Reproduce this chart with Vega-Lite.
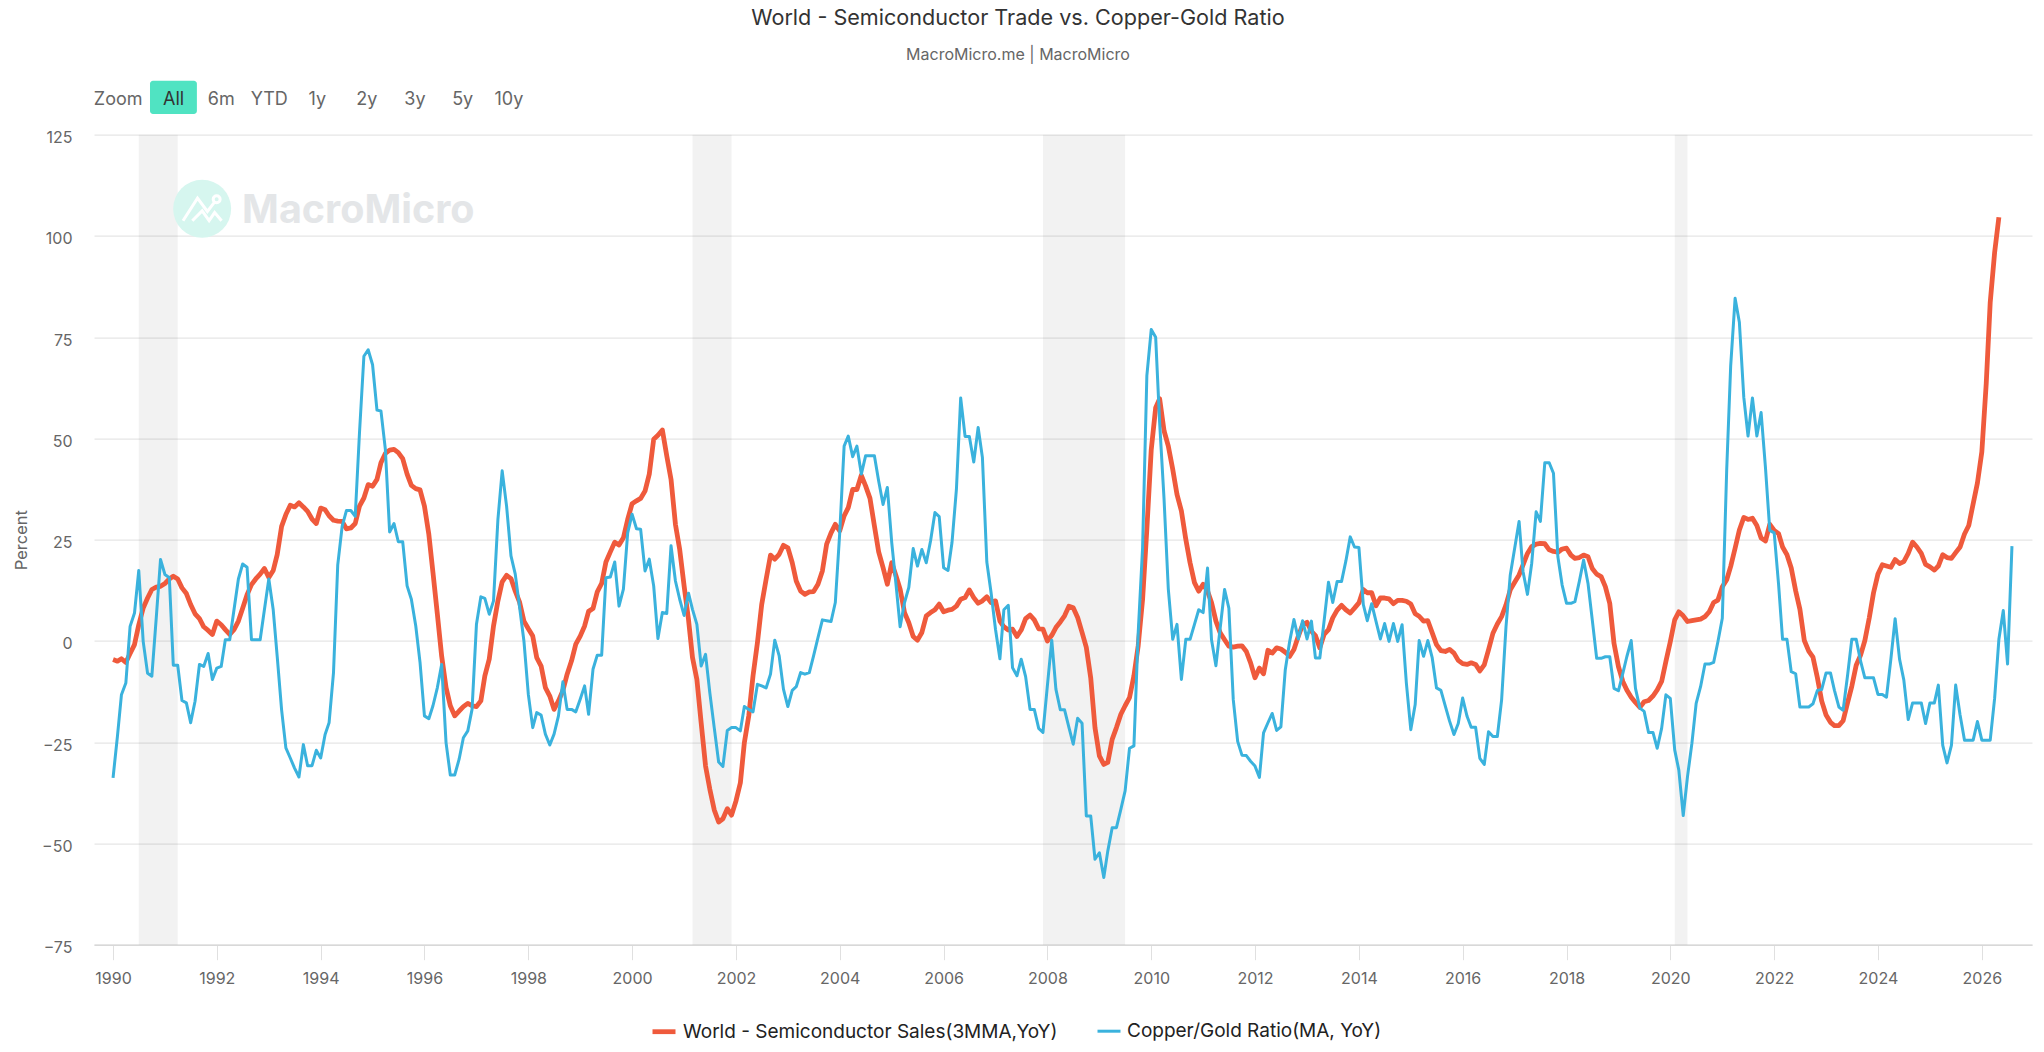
{
"$schema":"https://vega.github.io/schema/vega-lite/v6.json",
"width":1938,"height":810,
"autosize":{"type":"none"},
"padding":{"left":94,"top":134.7,"right":12,"bottom":107.3},
"background":"#ffffff",
"title":{"text":"World - Semiconductor Trade vs. Copper-Gold Ratio","subtitle":"MacroMicro.me | MacroMicro","anchor":"middle","dx":-45,"offset":18,"font":"Inter","fontSize":21.6,"fontWeight":400,"color":"#333333","subtitleFont":"Inter","subtitleFontSize":16,"subtitleColor":"#666666","subtitlePadding":17},
"datasets":{
"recessions":[{"start":"1990-07-01","end":"1991-04-01"},{"start":"2001-03-01","end":"2001-12-01"},{"start":"2007-12-01","end":"2009-07-01"},{"start":"2020-02-01","end":"2020-05-01"}],
"monthly":[
{"date":"1990-01-01","semi":-4.6,"copper_gold":-33.8},{"date":"1990-02-01","semi":-5,"copper_gold":-23.5},{"date":"1990-03-01","semi":-4.4,"copper_gold":-13.3},{"date":"1990-04-01","semi":-5.3,"copper_gold":-10.4},{"date":"1990-05-01","semi":-3.1,"copper_gold":3.6},{"date":"1990-06-01","semi":-0.9,"copper_gold":6.9},{"date":"1990-07-01","semi":4,"copper_gold":17.4},{"date":"1990-08-01","semi":8.1,"copper_gold":-0.1},{"date":"1990-09-01","semi":10.6,"copper_gold":-8},{"date":"1990-10-01","semi":12.7,"copper_gold":-8.7},{"date":"1990-11-01","semi":13.3,"copper_gold":5.7},{"date":"1990-12-01","semi":13.5,"copper_gold":20.1},
{"date":"1991-01-01","semi":14.2,"copper_gold":16.4},{"date":"1991-02-01","semi":15.3,"copper_gold":15.6},{"date":"1991-03-01","semi":16,"copper_gold":-6},{"date":"1991-04-01","semi":15.3,"copper_gold":-6},{"date":"1991-05-01","semi":13.1,"copper_gold":-14.7},{"date":"1991-06-01","semi":11.7,"copper_gold":-15.3},{"date":"1991-07-01","semi":9,"copper_gold":-20.2},{"date":"1991-08-01","semi":6.7,"copper_gold":-14.9},{"date":"1991-09-01","semi":5.5,"copper_gold":-5.8},{"date":"1991-10-01","semi":3.5,"copper_gold":-6.3},{"date":"1991-11-01","semi":2.6,"copper_gold":-3.1},{"date":"1991-12-01","semi":1.6,"copper_gold":-9.5},
{"date":"1992-01-01","semi":4.9,"copper_gold":-6.7},{"date":"1992-02-01","semi":4,"copper_gold":-6.3},{"date":"1992-03-01","semi":2.8,"copper_gold":0.3},{"date":"1992-04-01","semi":1.6,"copper_gold":0.3},{"date":"1992-05-01","semi":2.8,"copper_gold":7.7},{"date":"1992-06-01","semi":4.9,"copper_gold":15.3},{"date":"1992-07-01","semi":8.1,"copper_gold":19},{"date":"1992-08-01","semi":11.4,"copper_gold":18.2},{"date":"1992-09-01","semi":13.9,"copper_gold":0.3},{"date":"1992-10-01","semi":15.3,"copper_gold":0.3},{"date":"1992-11-01","semi":16.5,"copper_gold":0.3},{"date":"1992-12-01","semi":17.9,"copper_gold":7.7},
{"date":"1993-01-01","semi":15.7,"copper_gold":15.3},{"date":"1993-02-01","semi":17.4,"copper_gold":7.7},{"date":"1993-03-01","semi":21.3,"copper_gold":-3.8},{"date":"1993-04-01","semi":28.3,"copper_gold":-17},{"date":"1993-05-01","semi":31.2,"copper_gold":-26.4},{"date":"1993-06-01","semi":33.5,"copper_gold":-28.9},{"date":"1993-07-01","semi":33.1,"copper_gold":-31.4},{"date":"1993-08-01","semi":34.1,"copper_gold":-33.6},{"date":"1993-09-01","semi":33.1,"copper_gold":-25.6},{"date":"1993-10-01","semi":32,"copper_gold":-30.8},{"date":"1993-11-01","semi":30.1,"copper_gold":-30.8},{"date":"1993-12-01","semi":29,"copper_gold":-27},
{"date":"1994-01-01","semi":32.8,"copper_gold":-28.9},{"date":"1994-02-01","semi":32.4,"copper_gold":-23.1},{"date":"1994-03-01","semi":30.9,"copper_gold":-20.2},{"date":"1994-04-01","semi":29.8,"copper_gold":-7.9},{"date":"1994-05-01","semi":29.6,"copper_gold":18.8},{"date":"1994-06-01","semi":29.5,"copper_gold":28.3},{"date":"1994-07-01","semi":27.7,"copper_gold":32.2},{"date":"1994-08-01","semi":27.9,"copper_gold":32.2},{"date":"1994-09-01","semi":29,"copper_gold":30.8},{"date":"1994-10-01","semi":33.3,"copper_gold":51.4},{"date":"1994-11-01","semi":35.3,"copper_gold":70.3},{"date":"1994-12-01","semi":38.6,"copper_gold":71.9},
{"date":"1995-01-01","semi":38.2,"copper_gold":68.2},{"date":"1995-02-01","semi":39.9,"copper_gold":57},{"date":"1995-03-01","semi":44,"copper_gold":56.8},{"date":"1995-04-01","semi":46.3,"copper_gold":47.3},{"date":"1995-05-01","semi":47.1,"copper_gold":26.9},{"date":"1995-06-01","semi":47.3,"copper_gold":29},{"date":"1995-07-01","semi":46.5,"copper_gold":24.5},{"date":"1995-08-01","semi":45,"copper_gold":24.5},{"date":"1995-09-01","semi":41.2,"copper_gold":13.6},{"date":"1995-10-01","semi":38.4,"copper_gold":10.3},{"date":"1995-11-01","semi":37.6,"copper_gold":3.7},{"date":"1995-12-01","semi":37.3,"copper_gold":-5.3},
{"date":"1996-01-01","semi":33.3,"copper_gold":-18.5},{"date":"1996-02-01","semi":26.3,"copper_gold":-19.2},{"date":"1996-03-01","semi":16.9,"copper_gold":-16},{"date":"1996-04-01","semi":6.6,"copper_gold":-11.5},{"date":"1996-05-01","semi":-3.7,"copper_gold":-5.8},{"date":"1996-06-01","semi":-11.5,"copper_gold":-25.1},{"date":"1996-07-01","semi":-16,"copper_gold":-33.1},{"date":"1996-08-01","semi":-18.5,"copper_gold":-33.1},{"date":"1996-09-01","semi":-17.3,"copper_gold":-29.2},{"date":"1996-10-01","semi":-16.2,"copper_gold":-23.9},{"date":"1996-11-01","semi":-15.4,"copper_gold":-22.2},{"date":"1996-12-01","semi":-16,"copper_gold":-16.9},
{"date":"1997-01-01","semi":-16.2,"copper_gold":4.1},{"date":"1997-02-01","semi":-14.8,"copper_gold":10.9},{"date":"1997-03-01","semi":-8.6,"copper_gold":10.5},{"date":"1997-04-01","semi":-4.5,"copper_gold":6.6},{"date":"1997-05-01","semi":3.7,"copper_gold":9.9},{"date":"1997-06-01","semi":9.9,"copper_gold":30},{"date":"1997-07-01","semi":14.6,"copper_gold":42},{"date":"1997-08-01","semi":16.2,"copper_gold":33.3},{"date":"1997-09-01","semi":15.4,"copper_gold":21},{"date":"1997-10-01","semi":12.3,"copper_gold":16.5},{"date":"1997-11-01","semi":9.5,"copper_gold":8.2},{"date":"1997-12-01","semi":4.9,"copper_gold":0},
{"date":"1998-01-01","semi":3,"copper_gold":-13.2},{"date":"1998-02-01","semi":1.2,"copper_gold":-21.4},{"date":"1998-03-01","semi":-4.1,"copper_gold":-17.7},{"date":"1998-04-01","semi":-6.2,"copper_gold":-18.3},{"date":"1998-05-01","semi":-11.5,"copper_gold":-23},{"date":"1998-06-01","semi":-13.6,"copper_gold":-25.7},{"date":"1998-07-01","semi":-16.9,"copper_gold":-23},{"date":"1998-08-01","semi":-14.8,"copper_gold":-18.5},{"date":"1998-09-01","semi":-12.3,"copper_gold":-10.1},{"date":"1998-10-01","semi":-8.2,"copper_gold":-16.9},{"date":"1998-11-01","semi":-4.9,"copper_gold":-16.9},{"date":"1998-12-01","semi":-0.8,"copper_gold":-17.5},
{"date":"1999-01-01","semi":1.2,"copper_gold":-14.4},{"date":"1999-02-01","semi":3.7,"copper_gold":-11.1},{"date":"1999-03-01","semi":7.3,"copper_gold":-18.1},{"date":"1999-04-01","semi":8,"copper_gold":-7},{"date":"1999-05-01","semi":12.1,"copper_gold":-3.5},{"date":"1999-06-01","semi":14.2,"copper_gold":-3.5},{"date":"1999-07-01","semi":19.5,"copper_gold":15.6},{"date":"1999-08-01","semi":22,"copper_gold":15.8},{"date":"1999-09-01","semi":24.4,"copper_gold":19.5},{"date":"1999-10-01","semi":23.7,"copper_gold":8.6},{"date":"1999-11-01","semi":25.5,"copper_gold":12.8},{"date":"1999-12-01","semi":30,"copper_gold":26.7},
{"date":"2000-01-01","semi":33.9,"copper_gold":31.3},{"date":"2000-02-01","semi":34.6,"copper_gold":27.7},{"date":"2000-03-01","semi":35.2,"copper_gold":27.6},{"date":"2000-04-01","semi":37,"copper_gold":17.3},{"date":"2000-05-01","semi":41.2,"copper_gold":20.2},{"date":"2000-06-01","semi":49.8,"copper_gold":13.6},{"date":"2000-07-01","semi":50.8,"copper_gold":0.6},{"date":"2000-08-01","semi":52.1,"copper_gold":7},{"date":"2000-09-01","semi":45.7,"copper_gold":6.8},{"date":"2000-10-01","semi":39.9,"copper_gold":23.5},{"date":"2000-11-01","semi":28.8,"copper_gold":14.8},{"date":"2000-12-01","semi":22.6,"copper_gold":10.3},
{"date":"2001-01-01","semi":13.6,"copper_gold":6.3},{"date":"2001-02-01","semi":5.3,"copper_gold":11.8},{"date":"2001-03-01","semi":-4.1,"copper_gold":7.8},{"date":"2001-04-01","semi":-9.5,"copper_gold":4.1},{"date":"2001-05-01","semi":-20.2,"copper_gold":-6.2},{"date":"2001-06-01","semi":-30.9,"copper_gold":-3.3},{"date":"2001-07-01","semi":-36.6,"copper_gold":-12.8},{"date":"2001-08-01","semi":-41.7,"copper_gold":-21.4},{"date":"2001-09-01","semi":-44.7,"copper_gold":-29.9},{"date":"2001-10-01","semi":-43.9,"copper_gold":-31},{"date":"2001-11-01","semi":-41.4,"copper_gold":-22.1},{"date":"2001-12-01","semi":-43,"copper_gold":-21.4},
{"date":"2002-01-01","semi":-39.5,"copper_gold":-21.4},{"date":"2002-02-01","semi":-35,"copper_gold":-22.2},{"date":"2002-03-01","semi":-25.1,"copper_gold":-16.2},{"date":"2002-04-01","semi":-18.5,"copper_gold":-16.9},{"date":"2002-05-01","semi":-8.6,"copper_gold":-17.5},{"date":"2002-06-01","semi":-0.4,"copper_gold":-10.7},{"date":"2002-07-01","semi":9,"copper_gold":-11.1},{"date":"2002-08-01","semi":15.2,"copper_gold":-11.6},{"date":"2002-09-01","semi":21.2,"copper_gold":-8.2},{"date":"2002-10-01","semi":20.2,"copper_gold":0.2},{"date":"2002-11-01","semi":21.4,"copper_gold":-3.7},{"date":"2002-12-01","semi":23.6,"copper_gold":-11.9},
{"date":"2003-01-01","semi":23,"copper_gold":-16.2},{"date":"2003-02-01","semi":19.3,"copper_gold":-12.2},{"date":"2003-03-01","semi":14.8,"copper_gold":-11.3},{"date":"2003-04-01","semi":12.3,"copper_gold":-7.8},{"date":"2003-05-01","semi":11.5,"copper_gold":-8.2},{"date":"2003-06-01","semi":12.1,"copper_gold":-7.8},{"date":"2003-07-01","semi":12.2,"copper_gold":-3.7},{"date":"2003-08-01","semi":14,"copper_gold":0.8},{"date":"2003-09-01","semi":17.3,"copper_gold":5.2},{"date":"2003-10-01","semi":23.9,"copper_gold":5},{"date":"2003-11-01","semi":26.7,"copper_gold":4.8},{"date":"2003-12-01","semi":28.8,"copper_gold":9.5},
{"date":"2004-01-01","semi":27.2,"copper_gold":26.7},{"date":"2004-02-01","semi":30.9,"copper_gold":48.1},{"date":"2004-03-01","semi":32.9,"copper_gold":50.6},{"date":"2004-04-01","semi":37.4,"copper_gold":45.5},{"date":"2004-05-01","semi":37.4,"copper_gold":48.1},{"date":"2004-06-01","semi":40.9,"copper_gold":41.2},{"date":"2004-07-01","semi":38.3,"copper_gold":45.7},{"date":"2004-08-01","semi":35.2,"copper_gold":45.7},{"date":"2004-09-01","semi":28.4,"copper_gold":45.7},{"date":"2004-10-01","semi":22,"copper_gold":39.5},{"date":"2004-11-01","semi":18.1,"copper_gold":33.7},{"date":"2004-12-01","semi":14,"copper_gold":37.9},
{"date":"2005-01-01","semi":19.3,"copper_gold":24.3},{"date":"2005-02-01","semi":16,"copper_gold":13.6},{"date":"2005-03-01","semi":12.8,"copper_gold":3.5},{"date":"2005-04-01","semi":7,"copper_gold":9.5},{"date":"2005-05-01","semi":4.5,"copper_gold":13.2},{"date":"2005-06-01","semi":1.1,"copper_gold":22.8},{"date":"2005-07-01","semi":0.2,"copper_gold":18.5},{"date":"2005-08-01","semi":2.1,"copper_gold":22.6},{"date":"2005-09-01","semi":6.2,"copper_gold":19.3},{"date":"2005-10-01","semi":7,"copper_gold":24.7},{"date":"2005-11-01","semi":7.7,"copper_gold":31.7},{"date":"2005-12-01","semi":9.1,"copper_gold":30.7},
{"date":"2006-01-01","semi":7.2,"copper_gold":18.1},{"date":"2006-02-01","semi":7.6,"copper_gold":17.4},{"date":"2006-03-01","semi":7.8,"copper_gold":24.3},{"date":"2006-04-01","semi":8.6,"copper_gold":37.4},{"date":"2006-05-01","semi":10.3,"copper_gold":60},{"date":"2006-06-01","semi":10.7,"copper_gold":50.5},{"date":"2006-07-01","semi":12.6,"copper_gold":50.5},{"date":"2006-08-01","semi":10.7,"copper_gold":44.2},{"date":"2006-09-01","semi":9.3,"copper_gold":52.7},{"date":"2006-10-01","semi":9.9,"copper_gold":45.3},{"date":"2006-11-01","semi":10.9,"copper_gold":19.5},{"date":"2006-12-01","semi":9.5,"copper_gold":11.9},
{"date":"2007-01-01","semi":9.9,"copper_gold":2.9},{"date":"2007-02-01","semi":4.9,"copper_gold":-4.4},{"date":"2007-03-01","semi":3.5,"copper_gold":7.7},{"date":"2007-04-01","semi":2.7,"copper_gold":8.8},{"date":"2007-05-01","semi":2.9,"copper_gold":-6.6},{"date":"2007-06-01","semi":1.1,"copper_gold":-8.6},{"date":"2007-07-01","semi":2.7,"copper_gold":-4.5},{"date":"2007-08-01","semi":5.5,"copper_gold":-8.8},{"date":"2007-09-01","semi":6.4,"copper_gold":-16.9},{"date":"2007-10-01","semi":5.2,"copper_gold":-16.9},{"date":"2007-11-01","semi":3,"copper_gold":-21.6},{"date":"2007-12-01","semi":2.9,"copper_gold":-22.6},
{"date":"2008-01-01","semi":0,"copper_gold":-11.1},{"date":"2008-02-01","semi":1.4,"copper_gold":0.2},{"date":"2008-03-01","semi":3.3,"copper_gold":-11.9},{"date":"2008-04-01","semi":4.7,"copper_gold":-17},{"date":"2008-05-01","semi":6.2,"copper_gold":-17},{"date":"2008-06-01","semi":8.6,"copper_gold":-21.4},{"date":"2008-07-01","semi":8.2,"copper_gold":-25.5},{"date":"2008-08-01","semi":5.8,"copper_gold":-19.1},{"date":"2008-09-01","semi":2.1,"copper_gold":-20.3},{"date":"2008-10-01","semi":-1.6,"copper_gold":-43.2},{"date":"2008-11-01","semi":-9.1,"copper_gold":-43.2},{"date":"2008-12-01","semi":-21.4,"copper_gold":-53.9},
{"date":"2009-01-01","semi":-28.4,"copper_gold":-52.3},{"date":"2009-02-01","semi":-30.5,"copper_gold":-58.4},{"date":"2009-03-01","semi":-30,"copper_gold":-51.9},{"date":"2009-04-01","semi":-24.3,"copper_gold":-46.1},{"date":"2009-05-01","semi":-21.4,"copper_gold":-46.1},{"date":"2009-06-01","semi":-18.1,"copper_gold":-41.6},{"date":"2009-07-01","semi":-16,"copper_gold":-37},{"date":"2009-08-01","semi":-14,"copper_gold":-26.5},{"date":"2009-09-01","semi":-8.6,"copper_gold":-25.9},{"date":"2009-10-01","semi":-1.2,"copper_gold":2},{"date":"2009-11-01","semi":10.3,"copper_gold":23},{"date":"2009-12-01","semi":27.6,"copper_gold":65.5},
{"date":"2010-01-01","semi":47.3,"copper_gold":76.9},{"date":"2010-02-01","semi":57.6,"copper_gold":75},{"date":"2010-03-01","semi":59.8,"copper_gold":53.9},{"date":"2010-04-01","semi":51.9,"copper_gold":35},{"date":"2010-05-01","semi":48.1,"copper_gold":12.8},{"date":"2010-06-01","semi":42.4,"copper_gold":0.4},{"date":"2010-07-01","semi":36.2,"copper_gold":4.1},{"date":"2010-08-01","semi":32.1,"copper_gold":-9.5},{"date":"2010-09-01","semi":25.1,"copper_gold":0.4},{"date":"2010-10-01","semi":19.3,"copper_gold":0.4},{"date":"2010-11-01","semi":14.4,"copper_gold":4.1},{"date":"2010-12-01","semi":12.3,"copper_gold":7.7},
{"date":"2011-01-01","semi":14,"copper_gold":7},{"date":"2011-02-01","semi":12.3,"copper_gold":18},{"date":"2011-03-01","semi":9.5,"copper_gold":0.3},{"date":"2011-04-01","semi":4.9,"copper_gold":-6.1},{"date":"2011-05-01","semi":2,"copper_gold":3.2},{"date":"2011-06-01","semi":0.3,"copper_gold":12.7},{"date":"2011-07-01","semi":-1.3,"copper_gold":8.1},{"date":"2011-08-01","semi":-1.5,"copper_gold":-14.5},{"date":"2011-09-01","semi":-1.3,"copper_gold":-24.8},{"date":"2011-10-01","semi":-1.2,"copper_gold":-28.2},{"date":"2011-11-01","semi":-2.6,"copper_gold":-28.3},{"date":"2011-12-01","semi":-5.4,"copper_gold":-29.7},
{"date":"2012-01-01","semi":-9.1,"copper_gold":-30.9},{"date":"2012-02-01","semi":-6.7,"copper_gold":-33.7},{"date":"2012-03-01","semi":-8.1,"copper_gold":-22.7},{"date":"2012-04-01","semi":-2.3,"copper_gold":-20.2},{"date":"2012-05-01","semi":-3,"copper_gold":-17.9},{"date":"2012-06-01","semi":-1.7,"copper_gold":-22.1},{"date":"2012-07-01","semi":-2,"copper_gold":-21.2},{"date":"2012-08-01","semi":-2.8,"copper_gold":-7.1},{"date":"2012-09-01","semi":-3.8,"copper_gold":-0.1},{"date":"2012-10-01","semi":-2.1,"copper_gold":5.3},{"date":"2012-11-01","semi":1.2,"copper_gold":0.5},{"date":"2012-12-01","semi":4,"copper_gold":5},
{"date":"2013-01-01","semi":4.6,"copper_gold":0.5},{"date":"2013-02-01","semi":2.4,"copper_gold":4.9},{"date":"2013-03-01","semi":1.3,"copper_gold":-4.2},{"date":"2013-04-01","semi":-1.7,"copper_gold":-4.2},{"date":"2013-05-01","semi":1.6,"copper_gold":4.9},{"date":"2013-06-01","semi":2.8,"copper_gold":14.5},{"date":"2013-07-01","semi":5.7,"copper_gold":9.5},{"date":"2013-08-01","semi":7.6,"copper_gold":14.7},{"date":"2013-09-01","semi":8.8,"copper_gold":14.7},{"date":"2013-10-01","semi":7.7,"copper_gold":19.7},{"date":"2013-11-01","semi":6.9,"copper_gold":25.7},{"date":"2013-12-01","semi":8.1,"copper_gold":23.2},
{"date":"2014-01-01","semi":9.4,"copper_gold":23.1},{"date":"2014-02-01","semi":12.7,"copper_gold":9},{"date":"2014-03-01","semi":11.9,"copper_gold":5},{"date":"2014-04-01","semi":11.9,"copper_gold":9.2},{"date":"2014-05-01","semi":8.7,"copper_gold":4.9},{"date":"2014-06-01","semi":10.6,"copper_gold":0.5},{"date":"2014-07-01","semi":10.6,"copper_gold":4.3},{"date":"2014-08-01","semi":10.4,"copper_gold":-0.1},{"date":"2014-09-01","semi":9.2,"copper_gold":4.3},{"date":"2014-10-01","semi":10,"copper_gold":-0.1},{"date":"2014-11-01","semi":10,"copper_gold":4},{"date":"2014-12-01","semi":9.8,"copper_gold":-10.4},
{"date":"2015-01-01","semi":9.1,"copper_gold":-21.9},{"date":"2015-02-01","semi":6.7,"copper_gold":-15.7},{"date":"2015-03-01","semi":6.1,"copper_gold":0.1},{"date":"2015-04-01","semi":4.9,"copper_gold":-3.8},{"date":"2015-05-01","semi":5,"copper_gold":0.1},{"date":"2015-06-01","semi":2,"copper_gold":-4.2},{"date":"2015-07-01","semi":-0.9,"copper_gold":-11.6},{"date":"2015-08-01","semi":-2.4,"copper_gold":-12.2},{"date":"2015-09-01","semi":-2.6,"copper_gold":-16.1},{"date":"2015-10-01","semi":-2.1,"copper_gold":-19.8},{"date":"2015-11-01","semi":-3,"copper_gold":-23.1},{"date":"2015-12-01","semi":-4.8,"copper_gold":-20.4},
{"date":"2016-01-01","semi":-5.6,"copper_gold":-14.1},{"date":"2016-02-01","semi":-5.8,"copper_gold":-18.6},{"date":"2016-03-01","semi":-5.4,"copper_gold":-21.3},{"date":"2016-04-01","semi":-5.8,"copper_gold":-21.3},{"date":"2016-05-01","semi":-7.4,"copper_gold":-29},{"date":"2016-06-01","semi":-5.9,"copper_gold":-30.5},{"date":"2016-07-01","semi":-2.2,"copper_gold":-22.4},{"date":"2016-08-01","semi":1.9,"copper_gold":-23.6},{"date":"2016-09-01","semi":4.2,"copper_gold":-23.6},{"date":"2016-10-01","semi":6,"copper_gold":-14.6},{"date":"2016-11-01","semi":8.9,"copper_gold":3.5},{"date":"2016-12-01","semi":12.6,"copper_gold":16.3},
{"date":"2017-01-01","semi":14.5,"copper_gold":22.9},{"date":"2017-02-01","semi":16.3,"copper_gold":29.5},{"date":"2017-03-01","semi":18.8,"copper_gold":17.1},{"date":"2017-04-01","semi":21.6,"copper_gold":11.5},{"date":"2017-05-01","semi":23.3,"copper_gold":19.2},{"date":"2017-06-01","semi":23.9,"copper_gold":31.9},{"date":"2017-07-01","semi":24.1,"copper_gold":29.5},{"date":"2017-08-01","semi":24,"copper_gold":44},{"date":"2017-09-01","semi":22.5,"copper_gold":44},{"date":"2017-10-01","semi":22.1,"copper_gold":41.4},{"date":"2017-11-01","semi":21.9,"copper_gold":20.8},{"date":"2017-12-01","semi":22.7,"copper_gold":13.8},
{"date":"2018-01-01","semi":22.9,"copper_gold":9.3},{"date":"2018-02-01","semi":21.2,"copper_gold":9.3},{"date":"2018-03-01","semi":20.4,"copper_gold":9.7},{"date":"2018-04-01","semi":20.6,"copper_gold":14.7},{"date":"2018-05-01","semi":21.2,"copper_gold":20},{"date":"2018-06-01","semi":20.8,"copper_gold":14.2},{"date":"2018-07-01","semi":17.9,"copper_gold":5.2},{"date":"2018-08-01","semi":16.5,"copper_gold":-4.3},{"date":"2018-09-01","semi":15.9,"copper_gold":-4.3},{"date":"2018-10-01","semi":13.4,"copper_gold":-3.9},{"date":"2018-11-01","semi":9.3,"copper_gold":-3.9},{"date":"2018-12-01","semi":-0.6,"copper_gold":-11.7},
{"date":"2019-01-01","semi":-6.3,"copper_gold":-12.3},{"date":"2019-02-01","semi":-10,"copper_gold":-8},{"date":"2019-03-01","semi":-12.1,"copper_gold":-3.9},{"date":"2019-04-01","semi":-13.9,"copper_gold":0.1},{"date":"2019-05-01","semi":-15.2,"copper_gold":-11.7},{"date":"2019-06-01","semi":-16.4,"copper_gold":-16.6},{"date":"2019-07-01","semi":-15,"copper_gold":-17.4},{"date":"2019-08-01","semi":-14.7,"copper_gold":-22.6},{"date":"2019-09-01","semi":-13.6,"copper_gold":-22.6},{"date":"2019-10-01","semi":-12.1,"copper_gold":-26.5},{"date":"2019-11-01","semi":-10,"copper_gold":-21.6},{"date":"2019-12-01","semi":-5.1,"copper_gold":-13.3},
{"date":"2020-01-01","semi":-0.2,"copper_gold":-14.2},{"date":"2020-02-01","semi":5.2,"copper_gold":-26.9},{"date":"2020-03-01","semi":7.2,"copper_gold":-31.9},{"date":"2020-04-01","semi":6.2,"copper_gold":-43.1},{"date":"2020-05-01","semi":4.8,"copper_gold":-33.5},{"date":"2020-06-01","semi":5,"copper_gold":-25.3},{"date":"2020-07-01","semi":5.2,"copper_gold":-15.4},{"date":"2020-08-01","semi":5.4,"copper_gold":-11.3},{"date":"2020-09-01","semi":6,"copper_gold":-5.7},{"date":"2020-10-01","semi":7.2,"copper_gold":-5.7},{"date":"2020-11-01","semi":9.5,"copper_gold":-5.3},{"date":"2020-12-01","semi":10.1,"copper_gold":-0.2},
{"date":"2021-01-01","semi":13.4,"copper_gold":5.6},{"date":"2021-02-01","semi":15.1,"copper_gold":42.4},{"date":"2021-03-01","semi":18.4,"copper_gold":68},{"date":"2021-04-01","semi":22.9,"copper_gold":84.6},{"date":"2021-05-01","semi":27.4,"copper_gold":78.7},{"date":"2021-06-01","semi":30.5,"copper_gold":60.2},{"date":"2021-07-01","semi":30,"copper_gold":50.6},{"date":"2021-08-01","semi":30.3,"copper_gold":60},{"date":"2021-09-01","semi":28.5,"copper_gold":50.6},{"date":"2021-10-01","semi":25.4,"copper_gold":56.4},{"date":"2021-11-01","semi":24.7,"copper_gold":42.6},{"date":"2021-12-01","semi":28.8,"copper_gold":27.3},
{"date":"2022-01-01","semi":27.3,"copper_gold":26.7},{"date":"2022-02-01","semi":26.5,"copper_gold":13.9},{"date":"2022-03-01","semi":23.2,"copper_gold":0.4},{"date":"2022-04-01","semi":21.3,"copper_gold":0.4},{"date":"2022-05-01","semi":18,"copper_gold":-7.6},{"date":"2022-06-01","semi":12.4,"copper_gold":-8.1},{"date":"2022-07-01","semi":7.8,"copper_gold":-16.3},{"date":"2022-08-01","semi":0.1,"copper_gold":-16.3},{"date":"2022-09-01","semi":-2.5,"copper_gold":-16.3},{"date":"2022-10-01","semi":-4,"copper_gold":-15.5},{"date":"2022-11-01","semi":-9.1,"copper_gold":-12.2},{"date":"2022-12-01","semi":-14.8,"copper_gold":-12},
{"date":"2023-01-01","semi":-18.3,"copper_gold":-7.9},{"date":"2023-02-01","semi":-20.1,"copper_gold":-7.9},{"date":"2023-03-01","semi":-20.9,"copper_gold":-12.2},{"date":"2023-04-01","semi":-20.9,"copper_gold":-16.3},{"date":"2023-05-01","semi":-19.7,"copper_gold":-17.1},{"date":"2023-06-01","semi":-15.3,"copper_gold":-8.6},{"date":"2023-07-01","semi":-11.2,"copper_gold":0.4},{"date":"2023-08-01","semi":-6,"copper_gold":0.4},{"date":"2023-09-01","semi":-3.5,"copper_gold":-5},{"date":"2023-10-01","semi":0.1,"copper_gold":-9.1},{"date":"2023-11-01","semi":5.7,"copper_gold":-9.1},{"date":"2023-12-01","semi":11.9,"copper_gold":-9.1},
{"date":"2024-01-01","semi":16.5,"copper_gold":-13.2},{"date":"2024-02-01","semi":18.8,"copper_gold":-13.2},{"date":"2024-03-01","semi":18.5,"copper_gold":-13.9},{"date":"2024-04-01","semi":18.2,"copper_gold":-4.5},{"date":"2024-05-01","semi":20.1,"copper_gold":5.5},{"date":"2024-06-01","semi":19.1,"copper_gold":-4.5},{"date":"2024-07-01","semi":19.6,"copper_gold":-9.6},{"date":"2024-08-01","semi":21.6,"copper_gold":-19.4},{"date":"2024-09-01","semi":24.4,"copper_gold":-15.3},{"date":"2024-10-01","semi":23.2,"copper_gold":-15.3},{"date":"2024-11-01","semi":21.6,"copper_gold":-15.3},{"date":"2024-12-01","semi":18.9,"copper_gold":-20.4},
{"date":"2025-01-01","semi":18.3,"copper_gold":-15.3},{"date":"2025-02-01","semi":17.5,"copper_gold":-15.3},{"date":"2025-03-01","semi":18.5,"copper_gold":-10.9},{"date":"2025-04-01","semi":21.3,"copper_gold":-25.8},{"date":"2025-05-01","semi":20.6,"copper_gold":-30.1},{"date":"2025-06-01","semi":20.4,"copper_gold":-25.8},{"date":"2025-07-01","semi":21.8,"copper_gold":-10.9},{"date":"2025-08-01","semi":23.2,"copper_gold":-18.3},{"date":"2025-09-01","semi":26.4,"copper_gold":-24.5},{"date":"2025-10-01","semi":28.5,"copper_gold":-24.5},{"date":"2025-11-01","semi":33.9,"copper_gold":-24.5},{"date":"2025-12-01","semi":39,"copper_gold":-19.9},
{"date":"2026-01-01","semi":46.7,"copper_gold":-24.5},{"date":"2026-02-01","semi":63.6,"copper_gold":-24.5},{"date":"2026-03-01","semi":83.6,"copper_gold":-24.5},{"date":"2026-04-01","semi":95.9,"copper_gold":-14.2},{"date":"2026-05-01","semi":104.6,"copper_gold":0.4},{"date":"2026-06-01","semi":null,"copper_gold":7.5},{"date":"2026-07-01","semi":null,"copper_gold":-5.7},{"date":"2026-08-01","semi":null,"copper_gold":23.4}
]},
"layer":[
{"data":{"name":"recessions"},"mark":{"type":"rect","color":"#000000","opacity":0.05},
 "encoding":{"x":{"field":"start","type":"temporal","title":null,"scale":{"type":"utc","domain":[{"year":1989,"month":8,"date":20,"utc":true},{"year":2026,"month":12,"date":20,"utc":true}],"nice":false}},"x2":{"field":"end"}}},
{"data":{"values":[{}]},"mark":{"type":"point","shape":"circle","filled":true,"color":"#d6f6ef","opacity":1,"size":3364},
 "encoding":{"x":{"datum":{"year":1991,"month":9,"date":20,"utc":true},"type":"temporal","title":null},"y":{"datum":106.7,"type":"quantitative","title":"Percent"}}},
{"data":{"values":[{}]},"mark":{"type":"point","shape":"M-0.66,0.41L-0.16,-0.37L0.18,0.09L0.42,-0.22M-0.34,0.41L0,0.07L0.24,0.41L0.43,0.13L0.67,0.41M0.62,-0.33A0.12,0.12,0,1,1,0.38,-0.33A0.12,0.12,0,1,1,0.62,-0.33","filled":false,"stroke":"#ffffff","strokeWidth":3,"opacity":1,"size":3364},
 "encoding":{"x":{"datum":{"year":1991,"month":9,"date":20,"utc":true},"type":"temporal","title":null},"y":{"datum":106.7,"type":"quantitative","title":"Percent"}}},
{"data":{"values":[{"label":"MacroMicro"}]},"mark":{"type":"text","align":"left","baseline":"alphabetic","font":"Inter","fontWeight":700,"fontSize":39.5,"color":"#e4e6e8"},
 "encoding":{"text":{"field":"label"},"x":{"datum":{"year":1992,"month":6,"date":27,"utc":true},"type":"temporal","title":null},"y":{"datum":103.2,"type":"quantitative","title":"Percent"}}},
{"transform":[{"fold":["semi","copper_gold"],"as":["series","percent"]}],
 "data":{"name":"monthly"},
 "mark":{"type":"line","strokeJoin":"round","strokeCap":"butt"},
 "encoding":{
  "x":{"field":"date","type":"temporal","title":null},
  "y":{"field":"percent","type":"quantitative","title":"Percent","scale":{"domain":[-75,125],"nice":false,"zero":false},"axis":{"values":[-75,-50,-25,0,25,50,75,100,125]}},
  "color":{"field":"series","type":"nominal","scale":{"domain":["semi","copper_gold"],"range":["#ef5a3c","#3ab2dd"]},"legend":{"title":null,"orient":"none","legendX":556,"legendY":883,"direction":"horizontal","symbolType":"stroke","symbolSize":529,"labelFont":"Inter","labelFontSize":19,"labelColor":"#222222","labelOffset":5,"columnPadding":33,"labelLimit":500,"padding":0,"labelExpr":"datum.value === 'semi' ? 'World - Semiconductor Sales(3MMA,YoY)' : 'Copper/Gold Ratio(MA, YoY)'"}},
  "strokeWidth":{"field":"series","type":"nominal","scale":{"domain":["semi","copper_gold"],"range":[4.8,3]},"legend":{"title":null,"orient":"none","legendX":556,"legendY":883,"direction":"horizontal","symbolType":"stroke","symbolSize":529,"labelFont":"Inter","labelFontSize":19,"labelColor":"#222222","labelOffset":5,"columnPadding":33,"labelLimit":500,"padding":0,"labelExpr":"datum.value === 'semi' ? 'World - Semiconductor Sales(3MMA,YoY)' : 'Copper/Gold Ratio(MA, YoY)'"}}
 }},
{"data":{"values":[{}]},"mark":{"type":"rect","color":"#50e3c2","cornerRadius":3},
 "encoding":{"x":{"datum":{"year":1990,"month":9,"date":18,"utc":true},"type":"temporal","title":null},"x2":{"datum":{"year":1991,"month":8,"date":14,"utc":true}},"y":{"datum":138.3,"type":"quantitative","title":"Percent"},"y2":{"datum":130.1}}},
{"data":{"values":[{"label":"Zoom"}]},"mark":{"type":"text","font":"Inter","fontSize":18,"color":"#666666"},"encoding":{"text":{"field":"label"},"x":{"datum":{"year":1990,"month":2,"date":6,"utc":true},"type":"temporal","title":null},"y":{"datum":133.5,"type":"quantitative","title":"Percent"}}},
{"data":{"values":[{"label":"All"}]},"mark":{"type":"text","font":"Inter","fontSize":18,"color":"#333333"},"encoding":{"text":{"field":"label"},"x":{"datum":{"year":1991,"month":3,"date":3,"utc":true},"type":"temporal","title":null},"y":{"datum":133.5,"type":"quantitative","title":"Percent"}}},
{"data":{"values":[{"label":"6m"}]},"mark":{"type":"text","font":"Inter","fontSize":18,"color":"#666666"},"encoding":{"text":{"field":"label"},"x":{"datum":{"year":1992,"month":2,"date":1,"utc":true},"type":"temporal","title":null},"y":{"datum":133.5,"type":"quantitative","title":"Percent"}}},
{"data":{"values":[{"label":"YTD"}]},"mark":{"type":"text","font":"Inter","fontSize":18,"color":"#666666"},"encoding":{"text":{"field":"label"},"x":{"datum":{"year":1993,"month":1,"date":4,"utc":true},"type":"temporal","title":null},"y":{"datum":133.5,"type":"quantitative","title":"Percent"}}},
{"data":{"values":[{"label":"1y"}]},"mark":{"type":"text","font":"Inter","fontSize":18,"color":"#666666"},"encoding":{"text":{"field":"label"},"x":{"datum":{"year":1993,"month":12,"date":8,"utc":true},"type":"temporal","title":null},"y":{"datum":133.5,"type":"quantitative","title":"Percent"}}},
{"data":{"values":[{"label":"2y"}]},"mark":{"type":"text","font":"Inter","fontSize":18,"color":"#666666"},"encoding":{"text":{"field":"label"},"x":{"datum":{"year":1994,"month":11,"date":21,"utc":true},"type":"temporal","title":null},"y":{"datum":133.5,"type":"quantitative","title":"Percent"}}},
{"data":{"values":[{"label":"3y"}]},"mark":{"type":"text","font":"Inter","fontSize":18,"color":"#666666"},"encoding":{"text":{"field":"label"},"x":{"datum":{"year":1995,"month":10,"date":26,"utc":true},"type":"temporal","title":null},"y":{"datum":133.5,"type":"quantitative","title":"Percent"}}},
{"data":{"values":[{"label":"5y"}]},"mark":{"type":"text","font":"Inter","fontSize":18,"color":"#666666"},"encoding":{"text":{"field":"label"},"x":{"datum":{"year":1996,"month":9,"date":26,"utc":true},"type":"temporal","title":null},"y":{"datum":133.5,"type":"quantitative","title":"Percent"}}},
{"data":{"values":[{"label":"10y"}]},"mark":{"type":"text","font":"Inter","fontSize":18,"color":"#666666"},"encoding":{"text":{"field":"label"},"x":{"datum":{"year":1997,"month":8,"date":17,"utc":true},"type":"temporal","title":null},"y":{"datum":133.5,"type":"quantitative","title":"Percent"}}}
],
"config":{"view":{"stroke":null},
"axisX":{"format":"%Y","formatType":"utc","tickCount":{"interval":"year","step":2},"grid":false,"domainColor":"#d8d8d8","domainWidth":1.5,"tickColor":"#e0e0e0","tickWidth":1,"tickSize":15,"labelFont":"Inter","labelFontSize":16,"labelColor":"#666666","labelPadding":11,"labelFlush":false,"labelOverlap":false},
"axisY":{"grid":true,"gridColor":"#e6e6e6","gridWidth":1.3,"domain":false,"ticks":false,"labelFont":"Inter","labelFontSize":16,"labelColor":"#666666","labelPadding":22,"labelOffset":3,"titleFont":"Inter","titleFontSize":16.5,"titleFontWeight":400,"titleColor":"#666666","titlePadding":12}}
}
